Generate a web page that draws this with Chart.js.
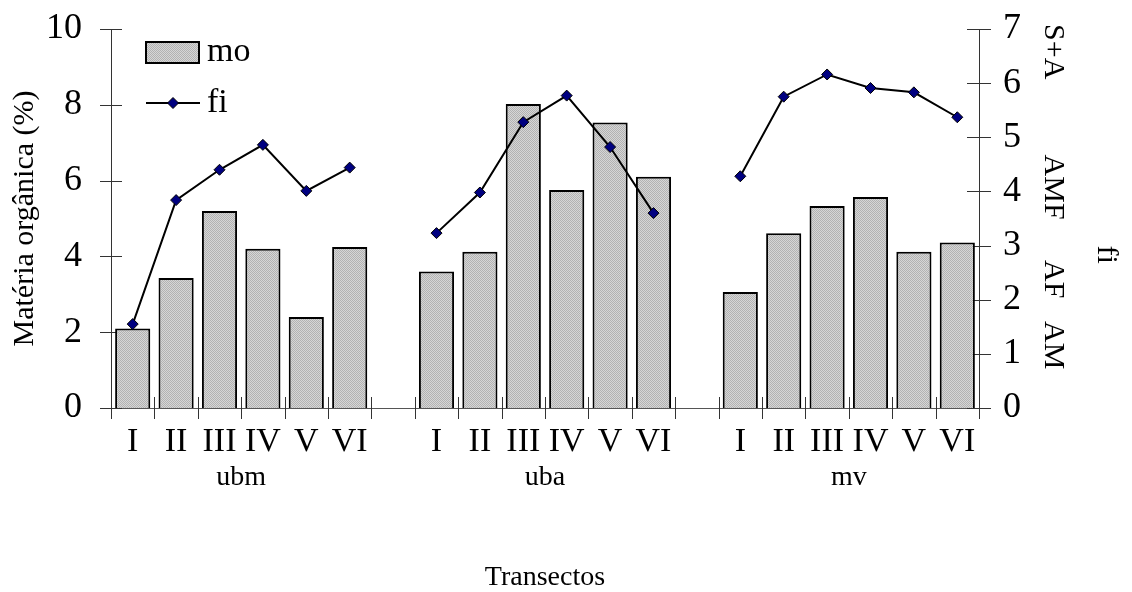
<!DOCTYPE html>
<html><head><meta charset="utf-8">
<script src="https://cdn.jsdelivr.net/npm/chart.js@4/dist/chart.umd.min.js"></script>
<style>html,body{margin:0;padding:0;background:#fff;}</style>
</head><body>
<canvas id="c" width="1132" height="592"></canvas>
<script>
const categories = ['I','II','III','IV','V','VI','', 'I','II','III','IV','V','VI','', 'I','II','III','IV','V','VI'];
const groupNames = ['ubm','uba','mv'];
const groupFirst = [0, 7, 14];
const groupLast = [5, 12, 19];
const moValues = [2.1, 3.43, 5.2, 4.2, 2.4, 4.25, null, 3.6, 4.12, 8.02, 5.75, 7.53, 6.1, null, 3.06, 4.61, 5.33, 5.57, 4.12, 4.37];
const fiValues = [1.55, 3.84, 4.4, 4.86, 4.01, 4.44, null, 3.23, 3.98, 5.28, 5.77, 4.82, 3.6, null, 4.28, 5.75, 6.16, 5.91, 5.83, 5.37];
const leftTicks = [0, 2, 4, 6, 8, 10];
const rightTicks = [0, 1, 2, 3, 4, 5, 6, 7];
const classLabels = ['S+A', 'AMF', 'AF', 'AM'];
const classAt = [6.58, 4.08, 2.38, 1.16];
const fiTitleAt = 2.83;

const FONT = "'Liberation Serif', 'Times New Roman', serif";
const canvas = document.getElementById('c');
const ctx = canvas.getContext('2d');

const pc = document.createElement('canvas');
pc.width = 4; pc.height = 4;
const pg = pc.getContext('2d');
pg.fillStyle = '#d6d6d6'; pg.fillRect(0, 0, 4, 4);
pg.fillStyle = '#b2b2b2';
for (let y = 0; y < 4; y++) for (let x = 0; x < 4; x++) if ((x + y) % 2 === 0) pg.fillRect(x, y, 1, 1);
const pattern = ctx.createPattern(pc, 'repeat');

function diamond(c, x, y, r) {
  c.beginPath(); c.moveTo(x, y - r); c.lineTo(x + r, y); c.lineTo(x, y + r); c.lineTo(x - r, y); c.closePath();
  c.fillStyle = '#000080'; c.fill(); c.lineWidth = 1; c.strokeStyle = '#000'; c.stroke();
}

const decor = {
  id: 'decor',
  beforeDatasetsDraw(chart) {
    const c = chart.ctx, xs = chart.scales.x, y = chart.scales.y, y1 = chart.scales.y1;
    c.save();
    c.strokeStyle = '#333'; c.lineWidth = 1;
    const half = (xs.getPixelForValue(1) - xs.getPixelForValue(0)) / 2;
    c.beginPath();
    for (let i = 0; i <= categories.length; i++) {
      const px = Math.round(xs.getPixelForValue(i) - half) + 0.5;
      c.moveTo(px, y.bottom - 11); c.lineTo(px, y.bottom + 11);
    }
    leftTicks.forEach(v => { const py = Math.round(y.getPixelForValue(v)) + 0.5; c.moveTo(y.right - 11, py); c.lineTo(y.right + 11, py); });
    rightTicks.forEach(v => { const py = Math.round(y1.getPixelForValue(v)) + 0.5; c.moveTo(y1.left - 12, py); c.lineTo(y1.left + 12, py); });
    c.stroke();
    c.restore();
  },
  afterDraw(chart) {
    const c = chart.ctx, xs = chart.scales.x, y1 = chart.scales.y1;
    c.save();
    c.fillStyle = '#000';
    c.font = '28px ' + FONT; c.textAlign = 'center'; c.textBaseline = 'middle';
    groupNames.forEach((g, i) => {
      const cx = (xs.getPixelForValue(groupFirst[i]) + xs.getPixelForValue(groupLast[i])) / 2;
      c.fillText(g, cx, 478);
    });
    c.font = '30px ' + FONT;
    classLabels.forEach((t, i) => {
      c.save(); c.translate(1053, y1.getPixelForValue(classAt[i])); c.rotate(Math.PI / 2);
      c.fillText(t, 0, 0); c.restore();
    });
    c.save(); c.translate(1106, y1.getPixelForValue(fiTitleAt)); c.rotate(Math.PI / 2);
    c.fillText('fi', 0, 0); c.restore();
    c.fillStyle = pattern; c.fillRect(146, 42, 53, 21);
    c.lineWidth = 2; c.strokeStyle = '#000'; c.strokeRect(146, 42, 53, 21);
    c.beginPath(); c.moveTo(146, 103); c.lineTo(200, 103); c.stroke();
    diamond(c, 173, 103, 5.5);
    c.fillStyle = '#000'; c.font = '34px ' + FONT; c.textAlign = 'left'; c.textBaseline = 'middle';
    c.fillText('mo', 207, 52);
    c.fillText('fi', 207, 103);
    c.restore();
  }
};

new Chart(ctx, {
  type: 'bar',
  data: {
    labels: categories,
    datasets: [
      { type: 'line', label: 'fi', data: fiValues, yAxisID: 'y1', borderColor: '#000', borderWidth: 2,
        pointStyle: 'rectRot', pointRadius: 5.5, pointBackgroundColor: '#000080', pointBorderColor: '#000',
        pointBorderWidth: 1, spanGaps: false, tension: 0, order: 0 },
      { type: 'bar', label: 'mo', data: moValues, yAxisID: 'y', backgroundColor: pattern, borderColor: '#000',
        borderWidth: 2, barPercentage: 0.81, categoryPercentage: 1, order: 1 }
    ]
  },
  options: {
    responsive: false, animation: false, devicePixelRatio: 1,
    layout: { padding: { top: 29, left: 0, right: 0, bottom: 0 } },
    plugins: { legend: { display: false }, tooltip: { enabled: false } },
    scales: {
      x: {
        grid: { display: false, offset: true, drawTicks: false },
        border: { display: true, color: '#555', width: 1 },
        ticks: { font: { family: FONT, size: 34 }, color: '#000', padding: 14, autoSkip: false, maxRotation: 0 },
        title: { display: true, text: 'Transectos', color: '#000', font: { family: FONT, size: 28, lineHeight: 1 }, padding: { top: 0, bottom: 0 } },
        afterFit(s) { s.height = 184; s.paddingLeft = 0; s.paddingRight = 0; }
      },
      y: {
        position: 'left', min: 0, max: 10,
        afterBuildTicks(s) { s.ticks = leftTicks.map(v => ({ value: v })); },
        grid: { display: false, drawTicks: false },
        border: { display: true, color: '#333', width: 1 },
        ticks: { font: { family: FONT, size: 36 }, color: '#000', padding: 29 },
        title: { display: true, text: 'Matéria orgânica (%)', color: '#000', font: { family: FONT, size: 30, lineHeight: 1 }, padding: { top: 10, bottom: 0 } },
        afterFit(s) { s.width = 111; s.paddingTop = 0; s.paddingBottom = 0; }
      },
      y1: {
        position: 'right', min: 0, max: 7,
        afterBuildTicks(s) { s.ticks = rightTicks.map(v => ({ value: v })); },
        grid: { display: false, drawTicks: false },
        border: { display: true, color: '#333', width: 1 },
        ticks: { font: { family: FONT, size: 36 }, color: '#000', padding: 24 },
        afterFit(s) { s.width = 153; s.paddingTop = 0; s.paddingBottom = 0; }
      }
    }
  },
  plugins: [decor]
});
</script>
</body></html>
